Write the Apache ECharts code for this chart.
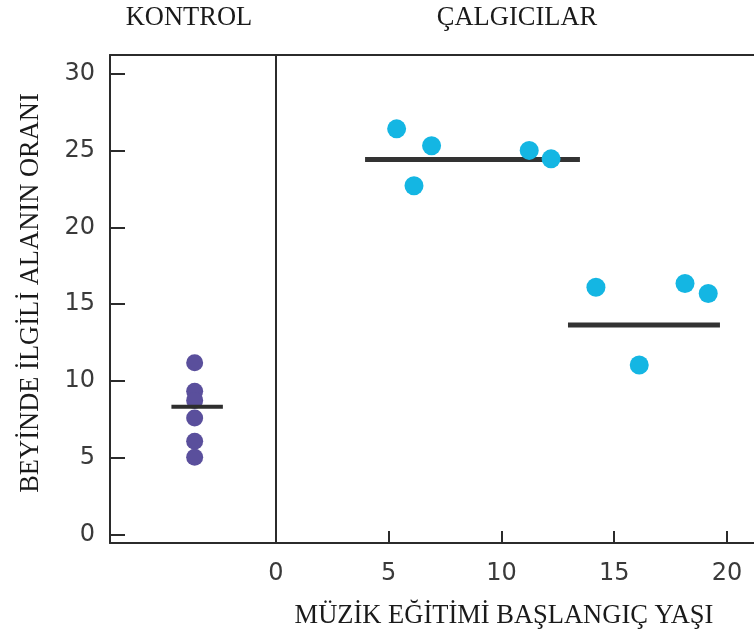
<!DOCTYPE html>
<html>
<head>
<meta charset="utf-8">
<script src="https://cdn.jsdelivr.net/npm/echarts@6/dist/echarts.min.js"></script>
<style>
  html, body { margin: 0; padding: 0; background: #fff; }
  #chart { width: 754px; height: 639px; }
</style>
</head>
<body>
<div id="chart"></div>
<script>
// Control group: brain-area ratio per subject (single column)
const controlX = [0.51, 0.51, 0.51, 0.51, 0.51, 0.51];
const controlY = [11.2, 9.35, 8.75, 7.6, 6.1, 5.05];
const controlMeanX = [0.37, 0.68];
const controlMean = 8.33;

// Musicians: age at start of music training vs. brain-area ratio
const musicianAge = [5.35, 6.9, 6.12, 11.23, 12.2, 14.19, 18.14, 19.17, 16.11];
const musicianRatio = [26.4, 25.3, 22.7, 25.0, 24.45, 16.1, 16.35, 15.7, 11.05];

// Group means for early and late starters
const earlyMeanX = [3.95, 13.48];
const earlyMean = 24.4;
const lateMeanX = [12.95, 19.69];
const lateMean = 13.65;

// Tick labels
const yTicks = [0, 5, 10, 15, 20, 25, 30];
const xTicks = [0, 5, 10, 15, 20];

const titleLeft = 'KONTROL';
const titleRight = 'ÇALGICILAR';
const yName = 'BEYİNDE İLGİLİ ALANIN ORANI';
const xName = 'MÜZİK EĞİTİMİ BAŞLANGIÇ YAŞI';

const AXIS = '#2b2b2b';
const serif = "'Liberation Serif', 'DejaVu Serif', serif";
const sans = "'DejaVu Sans', 'Noto Sans', sans-serif";

const yMin = -0.52, yMax = 31.2;

const chart = echarts.init(document.getElementById('chart'), null, { renderer: 'canvas' });

const hiddenAxis = {
  axisTick: { show: false }, axisLabel: { show: false }, splitLine: { show: false }
};

chart.setOption({
  animation: false,
  backgroundColor: '#fff',
  grid: [
    { left: 110, top: 55, width: 166, height: 488 },
    { left: 276, top: 55, right: 0, height: 488 }
  ],
  graphic: [
    { type: 'text', x: 189, y: 18, style: { text: titleLeft, font: '26.5px ' + serif, fill: '#1a1a1a', textAlign: 'center', textVerticalAlign: 'middle' } },
    { type: 'text', x: 517, y: 18, style: { text: titleRight, font: '26.5px ' + serif, fill: '#1a1a1a', textAlign: 'center', textVerticalAlign: 'middle' } }
  ],
  xAxis: [
    { // control panel bottom
      type: 'value', gridIndex: 0, min: 0, max: 1, position: 'bottom',
      axisLine: { show: true, onZero: false, lineStyle: { color: AXIS, width: 2 } },
      ...hiddenAxis
    },
    { // musicians panel bottom
      type: 'value', gridIndex: 1, min: 0, max: 21.2, position: 'bottom',
      name: xName, nameLocation: 'middle', nameGap: 60,
      nameTextStyle: { fontFamily: serif, fontSize: 26.5, color: '#1a1a1a', padding: [0, 22, 0, 0] },
      axisLine: { show: true, onZero: false, lineStyle: { color: AXIS, width: 2 } },
      axisTick: { show: true, inside: true, length: 12, customValues: xTicks, lineStyle: { color: AXIS, width: 2 } },
      axisLabel: { show: true, customValues: xTicks, margin: 19, fontFamily: sans, fontSize: 24, color: '#3a3a3a' },
      splitLine: { show: false }
    },
    { // top frame over control panel
      type: 'value', gridIndex: 0, min: 0, max: 1, position: 'top',
      axisLine: { show: true, onZero: false, lineStyle: { color: AXIS, width: 2 } },
      ...hiddenAxis
    },
    { // top frame over musicians panel
      type: 'value', gridIndex: 1, min: 0, max: 21.2, position: 'top',
      axisLine: { show: true, onZero: false, lineStyle: { color: AXIS, width: 2 } },
      ...hiddenAxis
    }
  ],
  yAxis: [
    {
      type: 'value', gridIndex: 0, min: yMin, max: yMax,
      name: yName, nameLocation: 'middle', nameGap: 65, nameRotate: 90,
      nameTextStyle: { fontFamily: serif, fontSize: 26.5, color: '#1a1a1a', padding: [0, 0, 0, 12] },
      axisLine: { show: true, onZero: false, lineStyle: { color: AXIS, width: 2 } },
      axisTick: { show: true, inside: true, length: 15, customValues: yTicks, lineStyle: { color: AXIS, width: 2 } },
      axisLabel: { show: true, customValues: yTicks, margin: 15, fontFamily: sans, fontSize: 24, color: '#3a3a3a' },
      splitLine: { show: false }
    },
    {
      type: 'value', gridIndex: 1, min: yMin, max: yMax,
      axisLine: { show: true, onZero: false, lineStyle: { color: AXIS, width: 2 } },
      ...hiddenAxis
    }
  ],
  series: [
    {
      type: 'scatter', xAxisIndex: 0, yAxisIndex: 0,
      data: controlX.map((x, i) => [x, controlY[i]]),
      symbolSize: 17,
      itemStyle: { color: '#5a4f9c', opacity: 1 },
      z: 2
    },
    {
      type: 'line', xAxisIndex: 0, yAxisIndex: 0,
      data: controlMeanX.map(x => [x, controlMean]),
      showSymbol: false, symbol: 'none',
      lineStyle: { color: '#2e2e2e', width: 4 },
      z: 3
    },
    {
      type: 'line', xAxisIndex: 1, yAxisIndex: 1,
      data: earlyMeanX.map(x => [x, earlyMean]),
      showSymbol: false, symbol: 'none',
      lineStyle: { color: '#333333', width: 5 },
      z: 2
    },
    {
      type: 'line', xAxisIndex: 1, yAxisIndex: 1,
      data: lateMeanX.map(x => [x, lateMean]),
      showSymbol: false, symbol: 'none',
      lineStyle: { color: '#333333', width: 5 },
      z: 2
    },
    {
      type: 'scatter', xAxisIndex: 1, yAxisIndex: 1,
      data: musicianAge.map((x, i) => [x, musicianRatio[i]]),
      symbolSize: 19,
      itemStyle: { color: '#14b6e3', opacity: 1 },
      z: 3
    }
  ]
});
</script>
</body>
</html>
